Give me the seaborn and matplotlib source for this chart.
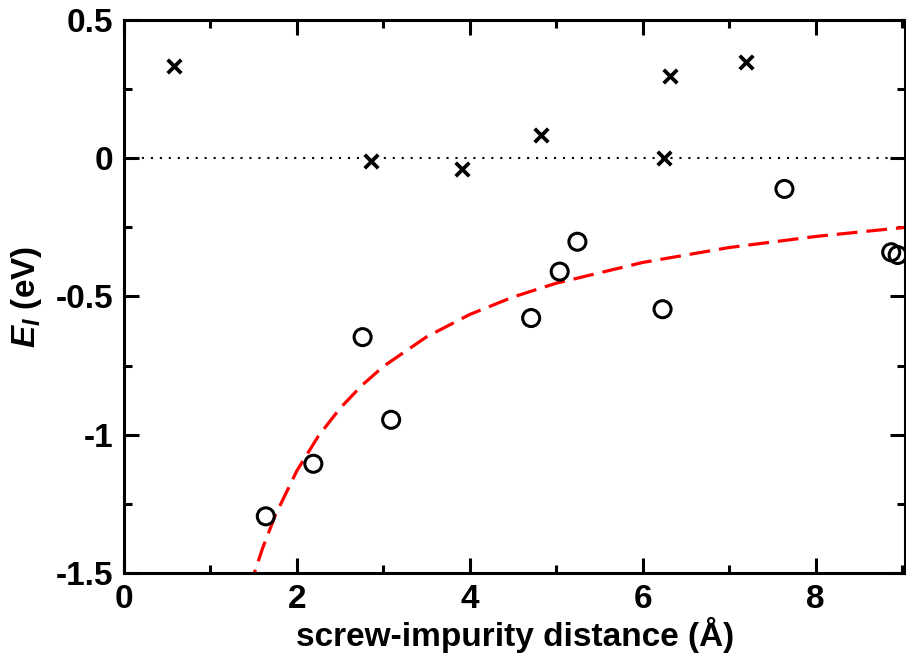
import numpy as np
import pandas as pd
import matplotlib
matplotlib.use("Agg")
import matplotlib.pyplot as plt
import seaborn as sns
from matplotlib.ticker import MultipleLocator

# crosses (upper set)
cross_x = [0.58, 2.86, 3.91, 4.82, 6.32, 6.25, 7.20]
cross_y = [0.333, -0.009, -0.038, 0.084, 0.297, 0.0, 0.347]

# circles (lower set)
circ_x = [1.64, 2.19, 2.76, 3.09, 4.71, 5.04, 5.245, 6.23, 7.64, 8.875, 8.95]
circ_y = [-1.295, -1.105, -0.647, -0.946, -0.578, -0.41, -0.302, -0.546, -0.111, -0.340, -0.35]

# red dashed fit curve
fit_x = [1.45, 1.5, 1.6, 1.75, 2.0, 2.25, 2.5, 2.75, 3.0, 3.5, 4.0, 4.5, 5.0, 6.0, 7.0, 8.0, 9.1]
fit_y = [-1.56, -1.507, -1.413, -1.291, -1.13, -1.004, -0.904, -0.822, -0.753, -0.646,
         -0.565, -0.502, -0.452, -0.377, -0.323, -0.283, -0.248]

sns.set_style("ticks")
plt.rcParams['font.family'] = ['Liberation Sans', 'DejaVu Sans']
plt.rcParams['font.weight'] = 'bold'
plt.rcParams['text.color'] = 'black'
plt.rcParams['axes.labelcolor'] = 'black'
plt.rcParams['xtick.color'] = 'black'
plt.rcParams['ytick.color'] = 'black'
plt.rcParams['mathtext.fontset'] = 'custom'
plt.rcParams['mathtext.it'] = 'Liberation Sans:italic:bold'
plt.rcParams['mathtext.rm'] = 'Liberation Sans:bold'

fig = plt.figure(figsize=(9.06, 6.55), dpi=100)
ax = fig.add_axes([0.1369, 0.1252, 0.8625, 0.8443])

ax.axhline(0, color='black', lw=1.5, ls=(0, (1, 3.3)), zorder=1)

sns.lineplot(x=fit_x, y=fit_y, ax=ax, color='#ff0000', lw=2.3,
             linestyle=(0, (6.5, 2.8)), sort=False, zorder=2)

sns.scatterplot(x=cross_x, y=cross_y, ax=ax, marker='x', s=95, color='black',
                linewidth=2.7, zorder=3)
sns.scatterplot(x=circ_x, y=circ_y, ax=ax, marker='o', s=150, facecolor='none',
                edgecolor='black', linewidth=2.2, zorder=3)

ax.set_xlim(0, 9.04)
ax.set_ylim(-1.5, 0.5)
ax.xaxis.set_major_locator(MultipleLocator(2))
ax.xaxis.set_minor_locator(MultipleLocator(1))
ax.yaxis.set_major_locator(MultipleLocator(0.5))
ax.yaxis.set_minor_locator(MultipleLocator(0.25))
ax.set_yticks([0.5, 0, -0.5, -1, -1.5])
ax.set_yticklabels(['0.5', '0', '-0.5', '-1', '-1.5'])

for s in ax.spines.values():
    s.set_linewidth(2.2)
    s.set_color('black')
ax.tick_params(which='both', direction='in', top=True, right=True, width=2.2,
               color='black', labelcolor='black', labelsize=24, pad=8)
ax.tick_params(which='major', length=10.5)
ax.tick_params(which='minor', length=5.5)
for lab in ax.get_xticklabels() + ax.get_yticklabels():
    lab.set_fontweight('bold')

ax.set_xlabel('screw-impurity distance (Å)', fontsize=24, fontweight='bold',
              color='black', labelpad=1)
ax.set_ylabel(r'$E_I$ (eV)', fontsize=24, fontweight='bold', color='black', labelpad=8)

fig.savefig('out.png', dpi=100)
